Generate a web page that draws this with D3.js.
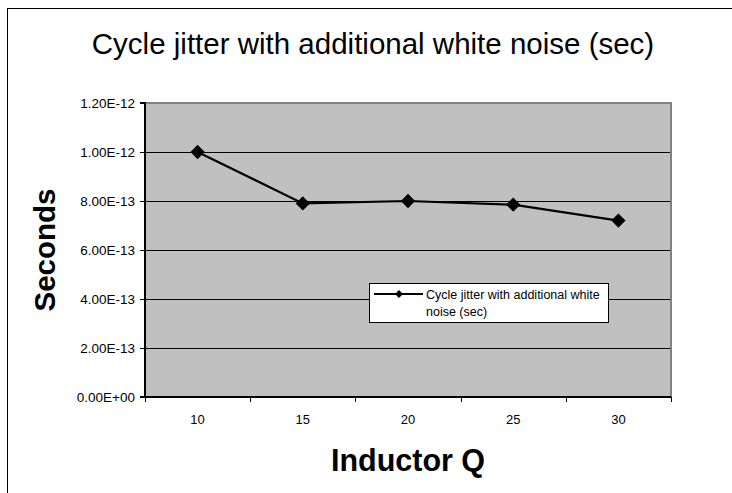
<!DOCTYPE html>
<html>
<head>
<meta charset="utf-8">
<script src="https://cdn.jsdelivr.net/npm/d3@7"></script>
<style>
  html, body { margin: 0; padding: 0; background: #fff; }
  svg { display: block; }
  text { font-family: "Liberation Sans", Arial, sans-serif; fill: #000; }
</style>
</head>
<body>
<svg id="chart" width="732" height="493"></svg>
<script>
// Inductor Q values on the category axis
const categories = ["10", "15", "20", "25", "30"];
// Cycle jitter in seconds for each Q
const jitter = [1.0e-12, 7.9e-13, 8.0e-13, 7.85e-13, 7.2e-13];
// Value-axis ticks and their printed labels
const yTicks = [0, 2e-13, 4e-13, 6e-13, 8e-13, 1.0e-12, 1.2e-12];
const yTickLabels = ["0.00E+00", "2.00E-13", "4.00E-13", "6.00E-13", "8.00E-13", "1.00E-12", "1.20E-12"];
const seriesName = "Cycle jitter with additional white noise (sec)";

const svg = d3.select("#chart");

// Chart frame (runs off the bottom/right of the window)
svg.append("rect")
  .attr("x", 7.5).attr("y", 8.5)
  .attr("width", 740).attr("height", 500)
  .attr("fill", "#fff").attr("stroke", "#000").attr("stroke-width", 1);

const plot = { left: 145, top: 103, right: 671, bottom: 397 };

const x = d3.scaleBand().domain(categories).range([plot.left, plot.right]).padding(0);
const y = d3.scaleLinear().domain([0, 1.2e-12]).range([plot.bottom, plot.top]);

// Plot area fill
svg.append("rect")
  .attr("x", plot.left).attr("y", plot.top)
  .attr("width", plot.right - plot.left).attr("height", plot.bottom - plot.top)
  .attr("fill", "#c0c0c0");

// Horizontal gridlines
svg.append("g")
  .selectAll("line")
  .data(yTicks.filter(d => d > 0 && d < 1.2e-12))
  .join("line")
  .attr("x1", plot.left).attr("x2", plot.right)
  .attr("y1", d => Math.round(y(d)) + 0.5).attr("y2", d => Math.round(y(d)) + 0.5)
  .attr("stroke", "#000").attr("stroke-width", 1);

// Plot area border on the top and right sides
svg.append("path")
  .attr("d", `M${plot.left},${plot.top} H${plot.right} V${plot.bottom}`)
  .attr("fill", "none").attr("stroke", "#808080").attr("stroke-width", 2);

// Value axis
const yAxis = d3.axisLeft(y)
  .tickValues(yTicks)
  .tickFormat((d, i) => yTickLabels[i])
  .tickSize(5).tickPadding(5);
const gy = svg.append("g")
  .attr("transform", `translate(${plot.left},0)`)
  .call(yAxis);
gy.select(".domain").attr("stroke", "#000").attr("stroke-width", 2).attr("d", `M-5,${plot.top}H0V${plot.bottom}`);
gy.selectAll(".tick line").attr("stroke", "#000");
gy.selectAll(".tick text").attr("fill", "#000").attr("font-size", 13.5);

// Category axis: ticks sit on the band boundaries, labels in the band centres
const gx = svg.append("g").attr("transform", `translate(0,${plot.bottom})`);
gx.append("line")
  .attr("x1", plot.left - 5).attr("x2", plot.right)
  .attr("y1", 0).attr("y2", 0)
  .attr("stroke", "#000").attr("stroke-width", 2);
const bounds = categories.map(c => x(c)).concat([x(categories[categories.length - 1]) + x.bandwidth()]);
gx.selectAll("line.tk").data(bounds).join("line")
  .attr("class", "tk")
  .attr("x1", d => Math.round(d) + 0.5).attr("x2", d => Math.round(d) + 0.5)
  .attr("y1", 0).attr("y2", 5)
  .attr("stroke", "#000");
gx.selectAll("text").data(categories).join("text")
  .attr("x", d => x(d) + x.bandwidth() / 2)
  .attr("y", 27)
  .attr("text-anchor", "middle")
  .attr("font-size", 13)
  .text(d => d);

// Series line and diamond markers
const pts = categories.map((c, i) => [x(c) + x.bandwidth() / 2, y(jitter[i])]);
svg.append("path")
  .attr("d", d3.line()(pts))
  .attr("fill", "none").attr("stroke", "#000").attr("stroke-width", 2.2);
const diamond = d3.symbol().type(d3.symbolDiamond2).size(130);
svg.append("g").selectAll("path").data(pts).join("path")
  .attr("transform", d => `translate(${d[0]},${d[1]})`)
  .attr("d", diamond)
  .attr("fill", "#000");

// Titles
svg.append("text")
  .attr("x", 373).attr("y", 54)
  .attr("text-anchor", "middle")
  .attr("font-size", 29.5)
  .text(seriesName);

svg.append("text")
  .attr("transform", "translate(55,250) rotate(-90)")
  .attr("text-anchor", "middle")
  .attr("font-size", 29.5).attr("font-weight", "bold")
  .text("Seconds");

svg.append("text")
  .attr("x", 408).attr("y", 471)
  .attr("text-anchor", "middle")
  .attr("font-size", 30.5).attr("font-weight", "bold")
  .text("Inductor Q");

// Legend
const lg = svg.append("g").attr("transform", "translate(369,283)");
lg.append("rect")
  .attr("x", 0.5).attr("y", 0.5).attr("width", 239).attr("height", 39)
  .attr("fill", "#fff").attr("stroke", "#000");
lg.append("line")
  .attr("x1", 5).attr("x2", 54).attr("y1", 11).attr("y2", 11)
  .attr("stroke", "#000").attr("stroke-width", 2);
lg.append("path")
  .attr("transform", "translate(30,11)")
  .attr("d", d3.symbol().type(d3.symbolDiamond2).size(40))
  .attr("fill", "#000");
const lt = lg.append("text").attr("font-size", 12.5);
lt.append("tspan").attr("x", 57).attr("y", 15.5).text("Cycle jitter with additional white");
lt.append("tspan").attr("x", 57).attr("y", 32.5).text("noise (sec)");
</script>
</body>
</html>
